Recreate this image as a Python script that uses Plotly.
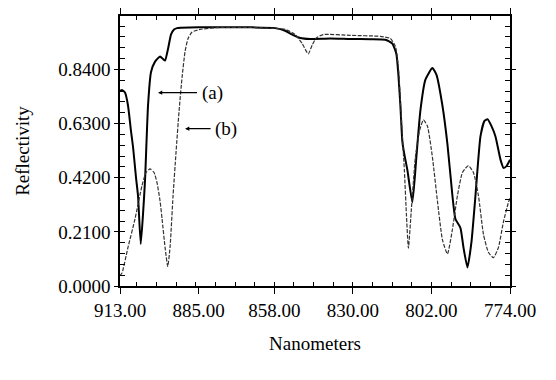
import plotly.graph_objects as go

# Wavelength (nm) and reflectivity for curve (a) - solid
wl_a = [913.0, 912.29, 911.22, 910.15, 909.07, 908.36, 907.29, 906.58, 905.61, 904.79,
        904.08, 903.01, 901.94, 900.51, 898.73, 897.65, 896.94, 895.87, 894.80, 893.73,
        892.66, 884.45, 866.61, 857.69, 854.12, 851.62, 848.76, 845.19, 838.06, 830.92,
        823.78, 818.43, 815.93, 814.50, 813.79, 813.07, 812.36, 811.65, 810.58, 808.79,
        807.37, 805.94, 804.15, 801.66, 800.23, 798.09, 796.30, 794.52, 793.45, 791.66,
        790.59, 789.17, 787.74, 786.31, 784.53, 783.10, 782.03, 780.60, 779.18, 777.39,
        776.32, 775.25, 774.0]
r_a = [0.757, 0.76, 0.75, 0.70, 0.60, 0.54, 0.42, 0.35, 0.163, 0.28,
       0.41, 0.70, 0.83, 0.87, 0.89, 0.88, 0.874, 0.92, 0.976, 0.995,
       1.0, 1.003, 1.003, 1.0, 0.99, 0.975, 0.962, 0.958, 0.96, 0.958,
       0.957, 0.955, 0.94, 0.90, 0.82, 0.70, 0.56, 0.51, 0.45, 0.325,
       0.50, 0.68, 0.80, 0.845, 0.82, 0.70, 0.55, 0.35, 0.26, 0.225,
       0.15, 0.072, 0.17, 0.35, 0.58, 0.64, 0.647, 0.62, 0.58, 0.49,
       0.458, 0.465, 0.49]

# Curve (b) - dashed
wl_b = [913.0, 912.29, 910.15, 907.65, 905.15, 903.72, 902.29, 900.87, 899.80, 898.73,
        898.01, 896.94, 895.98, 895.16, 894.09, 893.02, 891.94, 890.87, 889.80, 888.73,
        887.31, 884.45, 878.38, 866.61, 854.12, 850.55, 848.05, 845.91, 844.48, 843.05,
        840.56, 830.92, 820.21, 816.65, 814.86, 813.79, 813.07, 812.36, 811.65, 810.93,
        810.21, 809.14, 807.72, 806.29, 804.86, 803.43, 801.66, 799.87, 798.09, 796.30,
        794.52, 792.74, 790.95, 788.81, 787.03, 785.24, 783.46, 781.67, 779.89, 778.11,
        776.32, 774.54, 774.0]
r_b = [0.04, 0.05, 0.15, 0.26, 0.39, 0.44, 0.454, 0.44, 0.40, 0.33,
       0.26, 0.15, 0.076, 0.15, 0.35, 0.52, 0.68, 0.81, 0.91, 0.96,
       0.985, 0.995, 1.002, 1.003, 0.995, 0.975, 0.94, 0.90, 0.935, 0.962,
       0.975, 0.972, 0.968, 0.96, 0.93, 0.85, 0.72, 0.58, 0.45, 0.28,
       0.147, 0.30, 0.50, 0.60, 0.644, 0.62, 0.50, 0.33, 0.18, 0.124,
       0.22, 0.35, 0.44, 0.467, 0.44, 0.35, 0.20, 0.13, 0.11, 0.15,
       0.25, 0.325, 0.34]

x_ticks = [913.0, 885.0, 858.0, 830.0, 802.0, 774.0]
x_tick_labels = ["913.00", "885.00", "858.00", "830.00", "802.00", "774.00"]
y_ticks = [0.0, 0.21, 0.42, 0.63, 0.84]
y_tick_labels = ["0.0000", "0.2100", "0.4200", "0.6300", "0.8400"]

FONT = "Liberation Serif, Times New Roman, serif"

fig = go.Figure()
fig.add_trace(go.Scatter(x=wl_a, y=r_a, mode="lines", name="(a)",
                         line=dict(color="black", width=2, shape="spline", smoothing=0.5)))
fig.add_trace(go.Scatter(x=wl_b, y=r_b, mode="lines", name="(b)",
                         line=dict(color="#333", width=1.2, dash="4px,1.5px",
                                   shape="spline", smoothing=0.5)))

fig.add_annotation(x=899.44, y=0.7495, text="(a)", showarrow=True, ax=54, ay=0,
                   arrowhead=2, arrowsize=0.7, arrowwidth=1.2, arrowcolor="black",
                   borderpad=4, font=dict(family=FONT, size=19, color="black"))
fig.add_annotation(x=889.8, y=0.61, text="(b)", showarrow=True, ax=41, ay=0,
                   arrowhead=2, arrowsize=0.7, arrowwidth=1.2, arrowcolor="black",
                   borderpad=4, font=dict(family=FONT, size=19, color="black"))

fig.update_layout(
    width=556, height=380,
    margin=dict(l=120, r=46, t=8, b=94),
    paper_bgcolor="white", plot_bgcolor="white",
    showlegend=False,
    font=dict(family=FONT, size=19, color="black"),
)
fig.update_xaxes(
    range=[913, 774], tickmode="array", tickvals=x_ticks, ticktext=x_tick_labels,
    showgrid=False, zeroline=False, showline=True, linecolor="black", linewidth=1.5,
    mirror="allticks", ticks="outside", ticklen=6, tickcolor="black", tickwidth=1.2,
    minor=dict(tickmode="linear", tick0=774, dtick=7, ticks="inside", ticklen=4,
               tickcolor="black", tickwidth=1),
    tickfont=dict(family=FONT, size=19),
    title=dict(text="Nanometers", font=dict(family=FONT, size=19), standoff=17),
)
fig.update_yaxes(
    range=[0, 1.047], tickmode="array", tickvals=y_ticks, ticktext=y_tick_labels,
    showgrid=False, zeroline=False, showline=True, linecolor="black", linewidth=1.5,
    mirror="allticks", ticks="outside", ticklen=4, tickcolor="black", tickwidth=1.2,
    minor=dict(tickmode="linear", tick0=0, dtick=0.042, ticks="inside", ticklen=5,
               tickcolor="black", tickwidth=1),
    tickfont=dict(family=FONT, size=19),
    title=dict(text="Reflectivity", font=dict(family=FONT, size=19), standoff=24),
)

fig.write_html("out.html", config={"displayModeBar": False},
               post_script="document.body.style.margin='0px';")
